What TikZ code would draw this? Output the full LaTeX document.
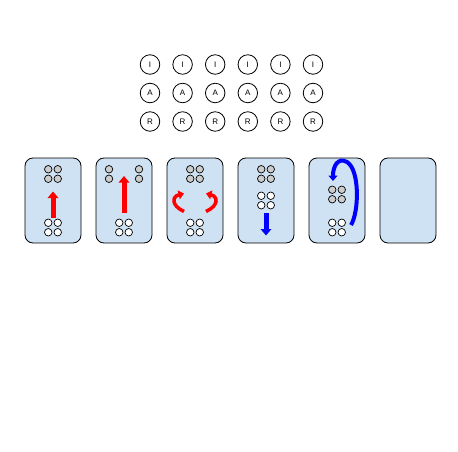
\documentclass[tikz,border=0pt]{standalone}
\usepackage{fontspec}
\setmainfont{Liberation Sans}
\usetikzlibrary{arrows.meta,calc,positioning}
\definecolor{CardBlue}{HTML}{CFE2F3}
\definecolor{PegGray}{HTML}{CCCCCC}
\definecolor{Red}{HTML}{FF0000}
\definecolor{Blue}{HTML}{0000FF}
\tikzset{letter/.style={circle,draw,line width=.8pt,minimum size=19.5pt,inner sep=0pt,font=\fontsize{8}{9}\selectfont},card/.style={rounded corners=8pt,draw,line width=.8pt,fill=CardBlue,minimum width=56pt,minimum height=85pt},peg/.style={circle,draw,line width=.7pt,minimum size=7.5pt,inner sep=0pt,fill=white},push/.style={line width=5pt,-{Triangle[length=6.5pt,width=10.5pt]}},curl/.style={line width=3.5pt,-{Triangle[length=5.5pt,width=9pt]}}}
\newcommand{\pegquad}[3]{%
  \begin{scope}[shift={(#2)}]
    \foreach \dx/\dy/\k in {-4.75/-4.75/a,4.75/-4.75/b,-4.75/4.75/c,4.75/4.75/d}
      \node[peg,fill=#3] (#1\k) at (\dx,\dy) {};
  \end{scope}}

\begin{document}
\begin{tikzpicture}[x=1pt,y=-1pt,node distance=14.2pt]
  \useasboundingbox (0,0) rectangle (458,452);
  % stacks
  \foreach \i in {1,...,6}{
    \node[letter] (i\i) at ({150+32.6*(\i-1)},64.5) {I};
    \node[letter] (a\i) at ({150+32.6*(\i-1)},93) {A};
    \node[letter] (r\i) at ({150+32.6*(\i-1)},121.5) {R};
  }
  % cards
  \node[card] (c1) at (53,200.5) {};
  \node[card,right=of c1] (c2) {};
  \node[card,right=of c2] (c3) {};
  \node[card,right=of c3] (c4) {};
  \node[card,right=of c4] (c5) {};
  \node[card,right=of c5] (c6) {};
  \pegquad{c1t}{$(c1)+(0,-26.5)$}{PegGray}
  \pegquad{c1b}{$(c1)+(0,27)$}{white}
  \node[peg,fill=PegGray] (c2ta) at ($(c2)+(-15,-31.25)$) {};
  \node[peg,fill=PegGray] (c2tc) at ($(c2)+(-15,-21.75)$) {};
  \node[peg,fill=PegGray] (c2tb) at ($(c2)+(15,-31.25)$) {};
  \node[peg,fill=PegGray] (c2td) at ($(c2)+(15,-21.75)$) {};
  \pegquad{c2b}{$(c2)+(0,27)$}{white}
  \pegquad{c3t}{$(c3)+(0,-26.5)$}{PegGray}
  \pegquad{c3b}{$(c3)+(0,27)$}{white}
  \pegquad{c4t}{$(c4)+(0,-26.5)$}{PegGray}
  \pegquad{c4b}{$(c4)+(0,0)$}{white}
  \pegquad{c5t}{$(c5)+(0,-6)$}{PegGray}
  \pegquad{c5b}{$(c5)+(0,27)$}{white}
  % moves
  \draw[push,Red] ($(c1)+(0,17.5)$)--($(c1)+(0,-9)$);
  \draw[push,Red] ($(c2)+(0,12.5)$)--($(c2)+(0,-24.5)$);
  \draw[curl,Red,shift={(c3)}] (-11,11) .. controls (-24,5) and (-23,-4) .. (-11,-7);
  \draw[curl,Red,shift={(c3)}] (11,11) .. controls (24,5) and (23,-4) .. (11,-7);
  \draw[push,Blue] ($(c4)+(0,12.5)$)--($(c4)+(0,35)$);
  \draw[curl,Blue,line width=4pt,shift={(c5)}] (14,24.5) .. controls (22,11.5) and (23,-30.5) .. (10,-38.5) .. controls (1,-43.5) and (-4,-34.5) .. (-4,-19.5);
\end{tikzpicture}
\end{document}
